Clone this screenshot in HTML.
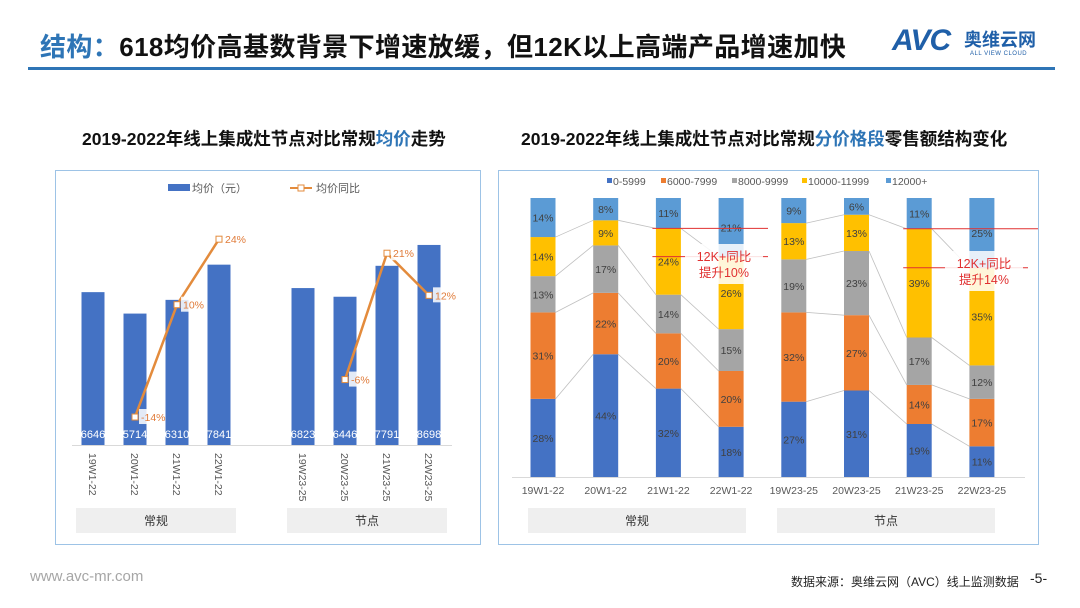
<!DOCTYPE html>
<html><head><meta charset="utf-8">
<style>
body{margin:0;width:1080px;height:608px;background:#fff;overflow:hidden;position:relative;font-family:"Liberation Sans","Noto Sans CJK SC",sans-serif;}
.abs{position:absolute;}
</style></head>
<body>
<div class="abs" style="left:40px;top:27px;font-size:26px;font-weight:bold;color:#111;white-space:nowrap;letter-spacing:0.4px"><span style="color:#2e75b6">结构：</span>618均价高基数背景下增速放缓，但12K以上高端产品增速加快</div>
<div class="abs" style="left:28px;top:67px;width:1027px;height:3px;background:#2e75b6"></div>
<div class="abs" style="left:892px;top:24px;width:160px;height:36px">
  <div class="abs" style="left:0;top:0;font-size:30px;font-weight:bold;font-style:italic;color:#1f5fa8;letter-spacing:-1px">AVC</div>
  <div class="abs" style="left:72px;top:2px;font-size:18px;font-weight:bold;color:#1f5fa8;white-space:nowrap">奥维云网</div>
  <div class="abs" style="left:78px;top:27px;font-size:6px;color:#1f5fa8;white-space:nowrap;letter-spacing:0.5px">ALL VIEW CLOUD</div>
</div>
<div class="abs" style="left:82px;top:126px;font-size:17.5px;font-weight:bold;color:#111;white-space:nowrap">2019-2022年线上集成灶节点对比常规<span style="color:#2e75b6">均价</span>走势</div>
<div class="abs" style="left:521px;top:126px;font-size:17.5px;font-weight:bold;color:#111;white-space:nowrap">2019-2022年线上集成灶节点对比常规<span style="color:#2e75b6">分价格段</span>零售额结构变化</div>

<svg class="abs" style="left:0;top:0" width="1080" height="608" id="charts">
  <rect x="55.5" y="170.5" width="425" height="374" fill="none" stroke="#9dc3e6"/>
  <rect x="498.5" y="170.5" width="540" height="374" fill="none" stroke="#9dc3e6"/>
  <g id="left"></g><g id="right"></g>
</svg>

<div class="abs" style="left:30px;top:568px;font-size:15px;color:#a6a6a6">www.avc-mr.com</div>
<div class="abs" style="left:791px;top:573px;font-size:12px;color:#222;white-space:nowrap">数据来源：奥维云网（AVC）线上监测数据</div>
<div class="abs" style="left:1030px;top:570px;font-size:14px;color:#222">-5-</div>

<script>
const leftCats=["19W1-22","20W1-22","21W1-22","22W1-22","19W23-25","20W23-25","21W23-25","22W23-25"];
const avgPrice=[6646,5714,6310,7841,6823,6446,7791,8698];
const yoy=[null,-14,10,24,null,-6,21,12];
const rightCats=["19W1-22","20W1-22","21W1-22","22W1-22","19W23-25","20W23-25","21W23-25","22W23-25"];
const seriesNames=["0-5999","6000-7999","8000-9999","10000-11999","12000+"];
const s0=[28,44,32,18,27,31,19,11];
const s1=[31,22,20,20,32,27,14,17];
const s2=[13,17,14,15,19,23,17,12];
const s3=[14,9,24,26,13,13,39,35];
const s4=[14,8,11,21,9,6,11,25];
const groupLabels=["常规","节点"];

const NS="http://www.w3.org/2000/svg";
function mk(tag,attrs,parent,txt){const e=document.createElementNS(NS,tag);for(const k in attrs)e.setAttribute(k,attrs[k]);if(txt!==undefined)e.textContent=txt;parent.appendChild(e);return e;}
const F='"Liberation Sans","Noto Sans CJK SC",sans-serif';

// LEFT CHART
const L=document.getElementById('left');
const lx=i=>93+i*42+(i>=4?42:0);
const lyBar=v=>445-v*0.023;
const lyLine=v=>351.5-v*4.68;
mk('line',{x1:72,y1:445.5,x2:452,y2:445.5,stroke:'#d9d9d9'},L);
avgPrice.forEach((v,i)=>{
  const r=mk('rect',{x:lx(i)-11.5,y:lyBar(v),width:23,height:445-lyBar(v),fill:'#4472c4'},L);
  
  
  const t=mk('text',{x:lx(i),y:438,'text-anchor':'middle','font-size':11,fill:'#fff','font-family':F},L,v);
  
  
  const xl=mk('text',{transform:`translate(${lx(i)-4},453) rotate(90)`,'font-size':10.5,fill:'#595959','font-family':F},L,leftCats[i]);
  
  
});
[[1,3],[5,7]].forEach(([a,b])=>{
  let d='';for(let i=a;i<=b;i++)d+=(i===a?'M':'L')+lx(i)+','+lyLine(yoy[i]);
  const p=mk('path',{d:d,fill:'none',stroke:'#e38b3c','stroke-width':2.5},L);
  
  
});
yoy.forEach((v,i)=>{
  if(v===null)return;
  const y=lyLine(v);
  const m=mk('rect',{x:lx(i)-3,y:y-3,width:6,height:6,fill:'#fff',stroke:'#e38b3c','stroke-width':1},L);
  
  
  mk('rect',{x:lx(i)+4,y:y-8,width:22,height:15,fill:'#fff',opacity:0.85},L);
  const t=mk('text',{x:lx(i)+6,y:y+4,'font-size':10.5,fill:'#e07b39','font-family':F},L,v+'%');
  
  
});
mk('rect',{x:168,y:184,width:22,height:7,fill:'#4472c4'},L);
mk('text',{x:192,y:192,'font-size':11,fill:'#595959','font-family':F},L,'均价（元）');
mk('line',{x1:290,y1:188,x2:312,y2:188,stroke:'#e38b3c','stroke-width':2},L);
mk('rect',{x:298,y:185,width:6,height:6,fill:'#fff',stroke:'#e38b3c'},L);
mk('text',{x:316,y:192,'font-size':11,fill:'#595959','font-family':F},L,'均价同比');
groupLabels.forEach((g,k)=>{
  const x0=k?287:76;
  const r=mk('rect',{x:x0,y:508,width:160,height:25,fill:'#efefef'},L);
  
  
  mk('text',{x:x0+80,y:525,'text-anchor':'middle','font-size':12,fill:'#333','font-family':F},L,g);
});

// RIGHT CHART
const R=document.getElementById('right');
const series=[s0,s1,s2,s3,s4];
const colors=['#4472c4','#ed7d31','#a5a5a5','#ffc000','#5b9bd5'];
const rx=i=>543+i*62.7;
const base=477,H=279;
const ry=p=>base-p/100*H;
mk('line',{x1:512,y1:477.5,x2:1025,y2:477.5,stroke:'#d9d9d9'},R);
const bounds=rightCats.map((c,i)=>{let cum=0;const arr=[];series.forEach(s=>{cum+=s[i];arr.push(cum);});const tot=cum;return arr.map(v=>v/tot*100);});
rightCats.forEach((c,i)=>{
  if(i===3||i===7)return;
  for(let k=0;k<4;k++){
    const l=mk('line',{x1:rx(i)+12.5,y1:ry(bounds[i][k]),x2:rx(i+1)-12.5,y2:ry(bounds[i+1][k]),stroke:'#bfbfbf','stroke-width':0.8},R);
    
    
  }
});
rightCats.forEach((c,i)=>{
  let prev=0;
  series.forEach((s,k)=>{
    const top=bounds[i][k];
    const r=mk('rect',{x:rx(i)-12.5,y:ry(top),width:25,height:ry(prev)-ry(top),fill:colors[k]},R);
    
    
    const t=mk('text',{x:rx(i),y:(ry(top)+ry(prev))/2+4,'text-anchor':'middle','font-size':10.5,fill:'#404040','font-family':F},R,s[i]+'%');
    
    
    prev=top;
  });
  const xl=mk('text',{x:rx(i),y:494,'text-anchor':'middle','font-size':10.5,fill:'#595959','font-family':F},R,c);
  
  
});
const legX=[613,667,738,808,892];
seriesNames.forEach((n,k)=>{
  mk('rect',{x:legX[k]-6,y:178,width:5,height:5,fill:colors[k]},R);
  const t=mk('text',{x:legX[k],y:185,'font-size':10.5,fill:'#595959','font-family':F},R,n);
  
  
});
// annotations: line A = prev year 12K+ boundary, line B = current year boundary
function annot(i,xEnd,boxX,boxY,txt2){
  const x1=rx(i-1)-16;
  const yA=ry(bounds[i-1][3]);
  const la=mk('line',{x1:x1,y1:yA,x2:xEnd,y2:yA,stroke:'#e03030','stroke-width':1},R);
  
  
  const yB=ry(bounds[i][3]);
  const lb=mk('line',{x1:x1,y1:yB,x2:boxX+78+5,y2:yB,stroke:'#e03030','stroke-width':1},R);
  
  
  const b=mk('rect',{x:boxX,y:boxY,width:78,height:40,fill:'#fff',opacity:0.85},R);
  
  
  mk('text',{x:boxX+39,y:boxY+17,'text-anchor':'middle','font-size':12.5,fill:'#e03030','font-family':F},R,'12K+同比');
  mk('text',{x:boxX+39,y:boxY+33,'text-anchor':'middle','font-size':12.5,fill:'#e03030','font-family':F},R,txt2);
}
annot(3,768,685,244,'提升10%');
annot(7,1038,945,251,'提升14%');
groupLabels.forEach((g,k)=>{
  const x0=k?777:528;
  const r=mk('rect',{x:x0,y:508,width:218,height:25,fill:'#efefef'},R);
  
  
  mk('text',{x:x0+109,y:525,'text-anchor':'middle','font-size':12,fill:'#333','font-family':F},R,g);
});
</script>
</body></html>
